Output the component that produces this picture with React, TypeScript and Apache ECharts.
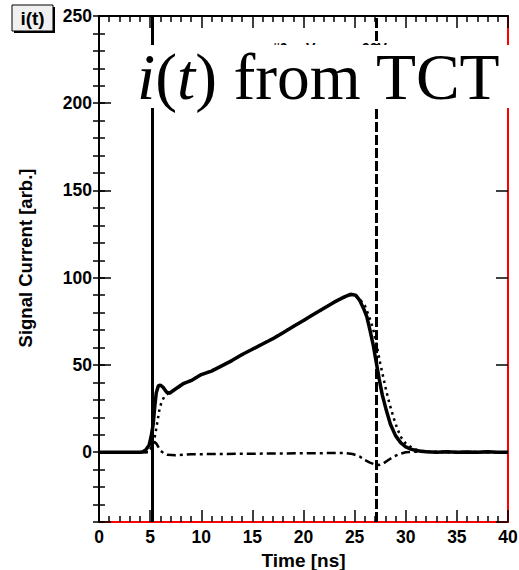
import React, { useEffect, useRef } from "react";
import * as echarts from "echarts";

// Measured signal current (thick solid line): [time ns, current arb.]
const measured: [number, number][] = [
  [0, 0], [1, 0], [2, 0], [3, 0], [4, 0], [4.3, 0.3], [4.6, 1.5], [4.9, 4], [5.1, 9], [5.3, 16],
  [5.45, 26], [5.6, 34], [5.8, 38], [6.0, 38.5], [6.3, 37], [6.6, 34.5], [6.9, 33.8], [7.3, 35.5],
  [7.8, 37.5], [8.3, 39.5], [9, 41], [10, 44.5], [11, 46.5], [12, 49.5], [13, 52.5], [14, 56],
  [15, 59], [16, 62], [17, 65], [18, 68.5], [19, 72], [20, 75.5], [21, 79], [22, 82.5], [23, 86],
  [24, 89], [24.6, 90.5], [25.1, 90], [25.5, 87], [25.9, 82], [26.2, 77.5], [26.5, 70], [26.8, 62],
  [27.1, 52], [27.4, 42], [27.7, 33], [28.1, 24], [28.5, 16], [29, 9.5], [29.5, 5.5], [30, 3],
  [30.5, 1.8], [31, 1], [31.5, 0.6], [32, 0.3], [33, 0], [34, 0.2], [35, 0], [36, 0.1], [37, 0],
  [38, 0.2], [39, 0], [40, 0],
];

// Simulated current (dotted line)
const simulated: [number, number][] = [
  [0, 0], [2, 0], [4, 0], [4.5, 0], [4.8, 0.5], [5.1, 2], [5.3, 5], [5.5, 10], [5.7, 17], [5.9, 24],
  [6.1, 28.5], [6.4, 32], [6.7, 33.5], [7, 34.5], [7.5, 36], [8.3, 39.3], [9, 41.2], [10, 44.3],
  [11, 46.8], [12, 49.3], [13, 52.6], [14, 55.8], [15, 59.2], [16, 62.2], [17, 65.3], [18, 68.6],
  [19, 72.2], [20, 75.3], [21, 79.2], [22, 82.4], [23, 86.2], [24, 88.8], [24.6, 90], [25.1, 89.5],
  [25.6, 87], [26, 84], [26.4, 78], [26.8, 71], [27.2, 60], [27.5, 51], [27.8, 43], [28.1, 35],
  [28.4, 28], [28.8, 20], [29.2, 13], [29.6, 8], [30, 5], [30.5, 3], [31, 1.5], [31.5, 0.8],
  [32, 0.3], [33, 0], [40, 0],
];

// Difference (dash-dot line)
const difference: [number, number][] = [
  [0, 0], [4.8, 0], [5.0, 1], [5.2, 4], [5.4, 6], [5.6, 5], [5.8, 3], [6.0, 1], [6.3, -0.5],
  [6.7, -1.5], [7.5, -1.8], [9, -1.2], [12, -1], [16, -0.8], [20, -0.6], [23, -0.5], [24, -0.4],
  [24.8, -1], [25.5, -2.5], [26, -4.5], [26.5, -6], [27, -7], [27.4, -7.3], [27.8, -6.5],
  [28.3, -4.5], [28.8, -2.6], [29.4, -1], [30, 0], [31, 0.3], [40, 0],
];

const startTime = 5.2;
const endTime = 27.1;

const xRange = [0, 40];
const yRange = [-40, 250];

const xTitle = "Time [ns]";
const yTitle = "Signal Current [arb.]";
const boxLabel = "i(t)";
const fragmentTexts = ["#0,", "V", "90V"];

const RED = "#ff0000";
const SANS = "'Liberation Sans', Arial, Helvetica, sans-serif";
const SERIF = "'Liberation Serif', 'Times New Roman', serif";

export default function App() {
  const ref = useRef<HTMLDivElement>(null);
  useEffect(() => {
    if (!ref.current) return;
    const chart = echarts.init(ref.current, undefined, { renderer: "svg" });
    const grid = {
      left: 99,
      top: 16,
      width: 409,
      height: 506,
      containLabel: false,
      outerBoundsMode: "none",
    };
    const tickLabel = { fontFamily: SANS, fontWeight: "bold" as const, fontSize: 17.5, color: "#000" };

    const xBase = (pos: "bottom" | "top", showLabels: boolean, lineColor: string) => ({
      type: "value" as const,
      position: pos,
      min: xRange[0],
      max: xRange[1],
      interval: 5,
      axisLine: { show: true, onZero: false, lineStyle: { color: lineColor, width: 2 } },
      axisTick: { show: true, inside: true, length: 12, lineStyle: { color: "#000", width: 1.5 } },
      minorTick: { show: true, splitNumber: 5, length: 6, lineStyle: { color: "#000", width: 1.5 } },
      splitLine: { show: false },
      axisLabel: { show: showLabels, margin: 6, ...tickLabel },
      name: showLabels ? xTitle : "",
      nameLocation: "middle" as const,
      nameGap: 23,
      nameTextStyle: {
        fontFamily: SANS,
        fontWeight: "bold" as const,
        fontSize: 19,
        color: "#000",
        verticalAlign: "top" as const,
      },
    });

    const yMajor = (pos: "left" | "right", showLabels: boolean, lineColor: string) => ({
      type: "value" as const,
      position: pos,
      min: yRange[0],
      max: yRange[1],
      minInterval: 50,
      maxInterval: 50,
      axisLine: { show: true, onZero: false, lineStyle: { color: lineColor, width: 2 } },
      axisTick: { show: true, inside: true, length: 12, lineStyle: { color: "#000", width: 1.5 } },
      splitLine: { show: false },
      axisLabel: {
        show: showLabels,
        margin: 7,
        ...tickLabel,
        formatter: (v: number) => (v % 50 === 0 ? String(v) : ""),
      },
    });

    const yMinor = (pos: "left" | "right") => ({
      type: "value" as const,
      position: pos,
      min: yRange[0],
      max: yRange[1],
      interval: 10,
      axisLine: { show: false },
      axisTick: { show: true, inside: true, length: 6, lineStyle: { color: "#000", width: 1.5 } },
      splitLine: { show: false },
      axisLabel: { show: false },
    });

    chart.setOption({
      animation: false,
      backgroundColor: "#fff",
      grid,
      xAxis: [xBase("bottom", true, RED), xBase("top", false, "#000")],
      yAxis: [yMajor("left", true, "#000"), yMinor("left"), yMajor("right", false, RED), yMinor("right")],
      series: [
        {
          type: "line",
          data: simulated,
          xAxisIndex: 0,
          yAxisIndex: 0,
          showSymbol: false,
          lineStyle: { color: "#000", width: 2.5, type: [2.5, 4] },
          z: 3,
        },
        {
          type: "line",
          data: difference,
          xAxisIndex: 0,
          yAxisIndex: 0,
          showSymbol: false,
          lineStyle: { color: "#000", width: 2.5, type: [9, 4, 3, 4] },
          z: 3,
        },
        {
          type: "line",
          data: measured,
          xAxisIndex: 0,
          yAxisIndex: 0,
          showSymbol: false,
          lineStyle: { color: "#000", width: 3.5 },
          z: 4,
          markLine: {
            silent: true,
            symbol: "none",
            label: { show: false },
            data: [
              { xAxis: startTime, lineStyle: { color: "#000", width: 3, type: "solid" } },
              { xAxis: endTime, lineStyle: { color: "#000", width: 3, type: [10, 3] } },
            ],
          },
        },
      ],
      graphic: [
        { type: "rect", z: 50, shape: { x: 14, y: 7, width: 41, height: 26 }, style: { fill: "#000" } },
        {
          type: "rect",
          z: 51,
          shape: { x: 12, y: 5, width: 41, height: 26 },
          style: { fill: "#f0f0f0", stroke: "#000", lineWidth: 1 },
        },
        {
          type: "text",
          z: 52,
          x: 32.5,
          y: 18.5,
          style: {
            text: boxLabel,
            fontFamily: SANS,
            fontWeight: "bold",
            fontSize: 19,
            fill: "#000",
            align: "center",
            verticalAlign: "middle",
          },
        },
        {
          type: "text",
          z: 50,
          x: 25,
          y: 258,
          rotation: Math.PI / 2,
          style: {
            text: yTitle,
            fontFamily: SANS,
            fontWeight: "bold",
            fontSize: 18.5,
            fill: "#000",
            align: "center",
            verticalAlign: "middle",
          },
        },
        {
          type: "text",
          z: 50,
          x: 272,
          y: 41,
          style: { text: fragmentTexts[0], fontFamily: SANS, fontWeight: "bold", fontSize: 14, fill: "#000" },
        },
        {
          type: "text",
          z: 50,
          x: 306,
          y: 41,
          style: { text: fragmentTexts[1], fontFamily: SANS, fontWeight: "bold", fontSize: 14, fill: "#000" },
        },
        {
          type: "text",
          z: 50,
          x: 362,
          y: 41,
          style: { text: fragmentTexts[2], fontFamily: SANS, fontWeight: "bold", fontSize: 14, fill: "#000" },
        },
        {
          type: "rect",
          z: 60,
          shape: { x: 128, y: 45, width: 391, height: 63 },
          style: { fill: "#fff" },
        },
        {
          type: "text",
          z: 61,
          x: 137,
          y: 110,
          style: {
            text: "{it|i}{n|(}{it|t}{n|) from TCT}",
            fontFamily: SERIF,
            fontSize: 65.5,
            fill: "#000",
            verticalAlign: "bottom",
            rich: {
              it: { fontFamily: SERIF, fontSize: 65.5, fontStyle: "italic", fill: "#000" },
              n: { fontFamily: SERIF, fontSize: 65.5, fontStyle: "normal", fill: "#000" },
            },
          },
        },
      ],
    });
    return () => chart.dispose();
  }, []);
  return <div ref={ref} style={{ width: 519, height: 570, position: "absolute", left: 0, top: 0 }} />;
}
